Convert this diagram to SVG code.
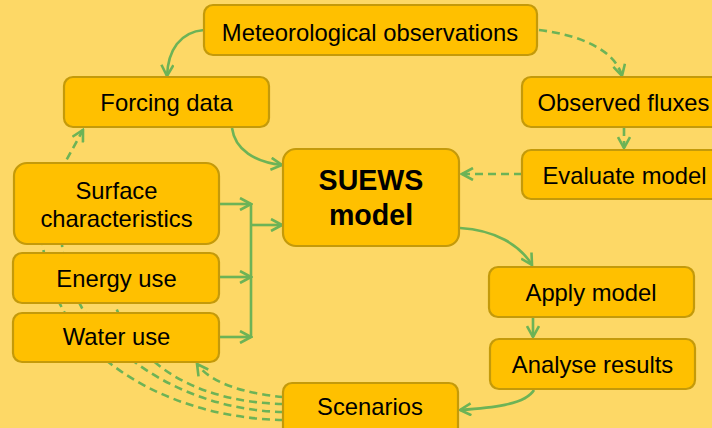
<svg xmlns="http://www.w3.org/2000/svg" width="712" height="428" viewBox="0 0 712 428">
<style>
.box{fill:#FFC000;stroke:#C49A0A;stroke-width:2.2}
.t{font-family:"Liberation Sans",Arial,sans-serif;font-size:23.8px;fill:#000;text-anchor:middle}
.b{font-family:"Liberation Sans",Arial,sans-serif;font-size:28.6px;font-weight:bold;fill:#000;text-anchor:middle}
.c{fill:none;stroke:#6DB356;stroke-width:2.6}
.d{stroke-dasharray:8,5}
</style>
<defs>
<marker id="ah" viewBox="0 0 14 14" refX="12" refY="7" markerWidth="14" markerHeight="14" markerUnits="userSpaceOnUse" orient="auto">
<path d="M1,1 L12,7 L1,13" fill="none" stroke="#6DB356" stroke-width="2.6"/>
</marker>
</defs>
<rect width="712" height="428" fill="#FDD866"/>
<g id="connectors">
<path class="c d" d="M283,420 C180,418 95,370 62,308 C44,274 34,222 50,190 L83,130" marker-end="url(#ah)"/>
<path class="c d" d="M283,412 C200,410 125,370 82,308 C72,290 63,265 62,244"/>
<path class="c d" d="M283,404 C205,402 140,372 115,305"/>
<path class="c d" d="M283,397 C250,394 212,385 197,364" marker-end="url(#ah)"/>
<path class="c" d="M204,30 C180,32 168,50 167,76" marker-end="url(#ah)"/>
<path class="c d" d="M539,30 C580,35 615,50 622,76" marker-end="url(#ah)"/>
<path class="c d" d="M624,128 L624,148" marker-end="url(#ah)"/>
<path class="c d" d="M522,174 L462,174" marker-end="url(#ah)"/>
<path class="c" d="M232,128 C235,150 255,162 282,165" marker-end="url(#ah)"/>
<path class="c" d="M219,204 L251,204" marker-end="url(#ah)"/>
<path class="c" d="M219,277 L251,277" marker-end="url(#ah)"/>
<path class="c" d="M219,337 L251,337" marker-end="url(#ah)"/>
<path class="c" d="M251,204 L251,338"/>
<path class="c" d="M251,225 L282,225" marker-end="url(#ah)"/>
<path class="c" d="M460,228 C495,230 520,245 532,265" marker-end="url(#ah)"/>
<path class="c" d="M533,317 L533,337" marker-end="url(#ah)"/>
<path class="c" d="M534,390 C525,405 490,408 460,410" marker-end="url(#ah)"/>
</g>
<g id="met"><rect class="box" x="204" y="5" width="333" height="50" rx="9"/><text class="t" x="370" y="41">Meteorological observations</text></g>
<g id="forcing"><rect class="box" x="64" y="77" width="205" height="50" rx="9"/><text class="t" x="166.5" y="111">Forcing data</text></g>
<g id="observed"><rect class="box" x="522" y="77" width="203" height="50" rx="9"/><text class="t" x="623.5" y="111">Observed fluxes</text></g>
<g id="evaluate"><rect class="box" x="522" y="150" width="203" height="49" rx="9"/><text class="t" x="624.5" y="184">Evaluate model</text></g>
<g id="suews"><rect class="box" x="283" y="149" width="176" height="97" rx="13"/><text class="b" x="371" y="190">SUEWS</text><text class="b" x="371" y="225">model</text></g>
<g id="surface"><rect class="box" x="14" y="163" width="205" height="81" rx="13"/><text class="t" x="116.5" y="199">Surface</text><text class="t" x="116.5" y="227">characteristics</text></g>
<g id="energy"><rect class="box" x="13" y="253" width="206" height="50" rx="9"/><text class="t" x="116.5" y="287">Energy use</text></g>
<g id="water"><rect class="box" x="13" y="313" width="206" height="49" rx="9"/><text class="t" x="116.5" y="345">Water use</text></g>
<g id="apply"><rect class="box" x="489" y="267" width="205" height="50" rx="9"/><text class="t" x="591" y="301">Apply model</text></g>
<g id="analyse"><rect class="box" x="490" y="339" width="205" height="50" rx="9"/><text class="t" x="592.5" y="373">Analyse results</text></g>
<g id="scenarios"><rect class="box" x="283" y="383" width="175" height="60" rx="9"/><text class="t" x="370" y="415">Scenarios</text></g>
</svg>
